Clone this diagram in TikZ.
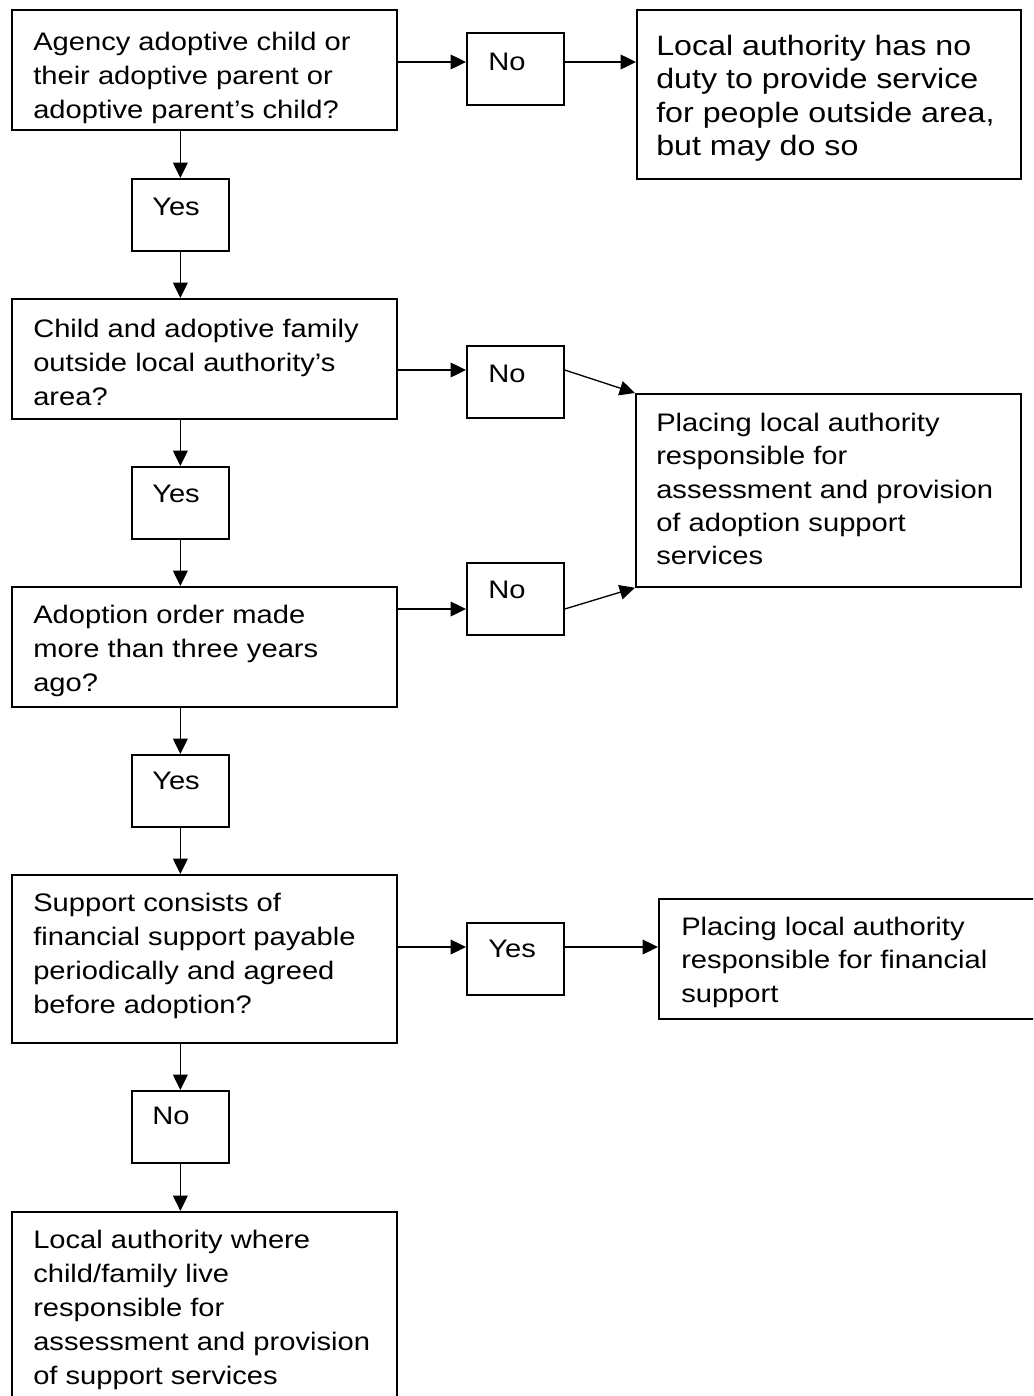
\documentclass[tikz,border=0pt]{standalone}
\usepackage{fontspec}
\setmainfont{Liberation Sans}
\newfontfamily\ff[FakeStretch=1.15]{Liberation Sans}
\usetikzlibrary{arrows.meta,calc}
\begin{document}
\begin{tikzpicture}[x=0.75pt,y=-0.75pt,
  box/.style={draw, line width=1.3pt, inner sep=0pt, anchor=north west},
  bigbox/.style={box, minimum width=288.75pt, minimum height=90pt},
  smallbox/.style={box, minimum width=72.75pt, minimum height=54pt},
  txt/.style={anchor=north west, inner sep=0pt, align=left, font=\ff\fontsize{19pt}{25.5pt}\selectfont},
  rtxt/.style={txt, font=\ff\fontsize{19pt}{25pt}\selectfont},
  arr/.style={line width=1pt, -{Triangle[length=11.5pt,width=11pt]}}]
\useasboundingbox (0,0) rectangle (1033,1396);
\clip (0,0) rectangle (1033,1396);

% left column
\node[bigbox] (b1) at (11,9) {};
\node[txt] (b1t) at ($(b1.north west)+(22,23)$) {Agency adoptive child or\\their adoptive parent or\\adoptive parent’s child?};
\node[smallbox] (y1) at (131,178) {};
\node[txt] (y1t) at ($(y1.north west)+(21,20)$) {Yes};
\node[bigbox] (b2) at (11,298) {};
\node[txt] (b2t) at ($(b2.north west)+(22,21)$) {Child and adoptive family\\outside local authority’s\\area?};
\node[smallbox] (y2) at (131,466) {};
\node[txt] (y2t) at ($(y2.north west)+(21,19)$) {Yes};
\node[bigbox] (b3) at (11,586) {};
\node[txt] (b3t) at ($(b3.north west)+(22,19)$) {Adoption order made\\more than three years\\ago?};
\node[smallbox] (y3) at (131,754) {};
\node[txt] (y3t) at ($(y3.north west)+(21,18)$) {Yes};
\node[bigbox, minimum height=126pt] (b4) at (11,874) {};
\node[txt] (b4t) at ($(b4.north west)+(22,19)$) {Support consists of\\financial support payable\\periodically and agreed\\before adoption?};
\node[smallbox] (n4) at (131,1090) {};
\node[txt] (n4t) at ($(n4.north west)+(21,17)$) {No};
\node[bigbox, minimum height=144pt] (b5) at (11,1211) {};
\node[txt] (b5t) at ($(b5.north west)+(22,19)$) {Local authority where\\child/family live\\responsible for\\assessment and provision\\of support services};

% right column small boxes
\node[smallbox] (n1) at (466,32) {};
\node[rtxt] (n1t) at ($(n1.north west)+(22,21)$) {No};
\node[smallbox] (n2) at (466,345) {};
\node[rtxt] (n2t) at ($(n2.north west)+(22,20)$) {No};
\node[smallbox] (n3) at (466,562) {};
\node[rtxt] (n3t) at ($(n3.north west)+(22,19)$) {No};
\node[smallbox] (y4) at (466,922) {};
\node[rtxt] (y4t) at ($(y4.north west)+(22,18)$) {Yes};

% right column outcome boxes
\node[box, minimum width=288pt, minimum height=126.75pt] (tr) at (636,9) {};
\node[txt, font=\ff\fontsize{21pt}{25pt}\selectfont] (trt) at ($(tr.north west)+(20,26)$) {Local authority has no\\duty to provide service\\for people outside area,\\but may do so};
\node[box, minimum width=288.75pt, minimum height=144.75pt] (mr) at (635,393) {};
\node[rtxt] (mrt) at ($(mr.north west)+(21,20)$) {Placing local authority\\responsible for\\assessment and provision\\of adoption support\\services};
\node[box, minimum width=290pt, minimum height=90pt] (br) at (658,898) {};
\node[rtxt] (brt) at ($(br.north west)+(23,19)$) {Placing local authority\\responsible for financial\\support};

% vertical connectors
\draw[arr] (y1.north |- b1.south) -- (y1.north);
\draw[arr] (y1.south) -- (y1.south |- b2.north);
\draw[arr] (y2.north |- b2.south) -- (y2.north);
\draw[arr] (y2.south) -- (y2.south |- b3.north);
\draw[arr] (y3.north |- b3.south) -- (y3.north);
\draw[arr] (y3.south) -- (y3.south |- b4.north);
\draw[arr] (n4.north |- b4.south) -- (n4.north);
\draw[arr] (n4.south) -- (n4.south |- b5.north);

% horizontal connectors
\draw[arr] (b1.east |- 0,62) -- (n1.west |- 0,62);
\draw[arr] (n1.east |- 0,62) -- (tr.west |- 0,62);
\draw[arr] (b2.east |- 0,370) -- (n2.west |- 0,370);
\draw[arr] (n2.east |- 0,370) -- (mr.north west);
\draw[arr] (b3.east |- 0,609) -- (n3.west |- 0,609);
\draw[arr] (n3.east |- 0,609) -- (mr.south west);
\draw[arr] (b4.east |- 0,947) -- (y4.west |- 0,947);
\draw[arr] (y4.east |- 0,947) -- (br.west |- 0,947);
\end{tikzpicture}
\end{document}
